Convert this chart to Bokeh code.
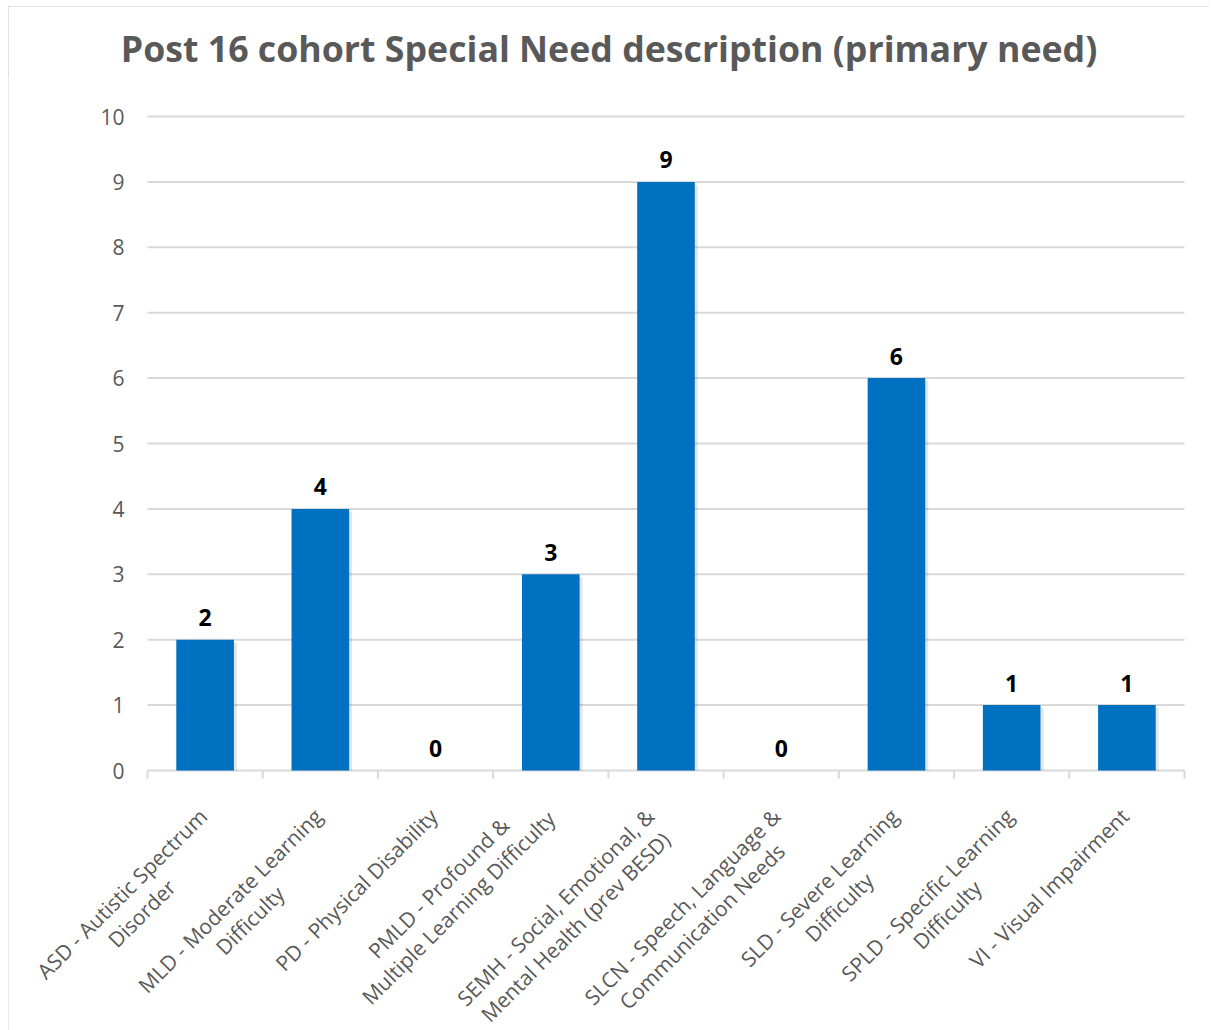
import math
from bokeh.plotting import figure
from bokeh.models import ColumnDataSource, Range1d, LinearAxis, FixedTicker, Title
from bokeh.core.properties import value
from bokeh.embed import file_html
from bokeh.resources import INLINE

# ---------------- data ----------------
title_text = "Post 16 cohort Special Need description (primary need)"
categories = [
    "ASD - Autistic Spectrum\nDisorder",
    "MLD - Moderate Learning\nDifficulty",
    "PD - Physical Disability",
    "PMLD - Profound &\nMultiple Learning Difficulty",
    "SEMH - Social, Emotional, &\nMental Health (prev BESD)",
    "SLCN - Speech, Language &\nCommunication Needs",
    "SLD - Severe Learning\nDifficulty",
    "SPLD - Specific Learning\nDifficulty",
    "VI - Visual Impairment",
]
counts = [2, 4, 0, 3, 9, 0, 6, 1, 1]
y_ticks = [0, 1, 2, 3, 4, 5, 6, 7, 8, 9, 10]

# ---------------- layout constants ----------------
W, H = 1201, 1024          # figure placed at page (8, 6)
N = len(categories)
PX_X = 1037.0 / N          # pixels per category
PX_Y = 65.4                # pixels per unit
FRAME_TOP = 70
X0_PX = 139                # left of first category from frame left
Y10_PX = 110 - FRAME_TOP   # y=10 below frame top
FONT = "Open Sans"
GREY_TXT = "#595959"
GRID = "#d9d9d9"
BAR = "#0070C0"
LABEL_PX = 21
LINE_ADV = 24.6            # px between label lines (text_line_height 1.0)

x_start = -X0_PX / PX_X
x_end = x_start + W / PX_X
y_end = 10 + Y10_PX / PX_Y
y_start = y_end - (H - FRAME_TOP) / PX_Y

p = figure(width=W, height=H, output_backend="svg", toolbar_location=None,
           x_range=Range1d(x_start, x_end), y_range=Range1d(y_start, y_end),
           x_axis_location=None, y_axis_location=None,
           min_border_left=0, min_border_right=0, min_border_bottom=0,
           min_border_top=FRAME_TOP)
p.outline_line_color = None
p.background_fill_color = "white"
p.border_fill_color = "white"
for g in p.grid:
    g.visible = False
p.styles = {"margin-left": "8px", "margin-top": "6px",
            "outline": "2px solid #d9d9d9", "outline-offset": "-2px"}

p.title = Title(text=title_text, align="center", text_font=FONT,
                text_font_size="35.7px", text_font_style="bold",
                text_color=GREY_TXT, standoff=10)

xs = [i + 0.5 for i in range(N)]
bounds = [float(i) for i in range(N + 1)]

# gridlines (incl. baseline at 0)
p.segment(x0=0, x1=N, y0=y_ticks, y1=y_ticks, line_color=GRID, line_width=2)
# category boundary tick marks
p.segment(x0=bounds, x1=bounds, y0=0, y1=-8 / PX_Y, line_color=GRID, line_width=2)

# y axis at x = 0
yaxis = LinearAxis(fixed_location=0, ticker=FixedTicker(ticks=y_ticks), bounds=(0, 10))
yaxis.axis_line_color = None
yaxis.major_tick_line_color = None
yaxis.minor_tick_line_color = None
yaxis.major_tick_out = 0
yaxis.major_tick_in = 0
yaxis.major_label_standoff = 23
yaxis.major_label_text_font = FONT
yaxis.major_label_text_font_size = "21px"
yaxis.major_label_text_color = GREY_TXT
p.add_layout(yaxis, "left")

# bar shadows
sh = [(x, c) for x, c in zip(xs, counts) if c > 0]
p.vbar(x=[x + 3 / PX_X for x, c in sh], top=[c - 3 / PX_Y for x, c in sh],
       bottom=0, width=0.5, fill_color="black", fill_alpha=0.10, line_color=None)
# bars
p.vbar(x=xs, top=counts, width=0.5, fill_color=BAR, line_color=None)

# data labels
p.text(x=xs, y=counts, text=[str(c) for c in counts], text_align="center",
       text_baseline="alphabetic", y_offset=-22, text_font=value(FONT),
       text_font_size="23px", text_font_style="bold", text_color="black")

# ---- rotated category labels, placed like Excel (tight box of the rotated lines) ----
ADV = {' ': 532, '&': 1458, '(': 545, ')': 545, ',': 502, '-': 659,
       'A': 1296, 'B': 1327, 'C': 1292, 'D': 1493, 'E': 1139, 'H': 1554, 'I': 590,
       'L': 1057, 'M': 1849, 'N': 1571, 'P': 1237, 'S': 1098, 'V': 1237,
       'a': 1139, 'b': 1255, 'c': 975, 'd': 1255, 'e': 1149, 'f': 694, 'g': 1122,
       'h': 1257, 'i': 518, 'l': 518, 'm': 1905, 'n': 1257, 'o': 1237, 'p': 1255,
       'r': 836, 's': 977, 't': 723, 'u': 1257, 'v': 1051, 'y': 1051}

def text_w(s):
    return sum(ADV.get(ch, 1150) for ch in s) / 2048.0 * LABEL_PX

C = math.sqrt(0.5)
RIGHT, TOP = 5.4, 32.0     # rotated-box right / top edge relative to (tick centre, axis)
x_offs, y_offs = [], []
for lbl in categories:
    lines = lbl.split("\n")
    ws = [text_w(s) for s in lines]
    wmax = max(ws)
    us = [-(wmax - w) / 2 for w in ws]
    ds = [k * LINE_ADV for k in range(len(lines))]
    y_offs.append(TOP - min(C * (d - u) for u, d in zip(us, ds)))
    x_offs.append(RIGHT - max(C * (u + d + LINE_ADV) for u, d in zip(us, ds)))

src = ColumnDataSource(dict(x=xs, y=[0] * N, text=categories, xo=x_offs, yo=y_offs))
p.text(x="x", y="y", text="text", source=src, anchor="top_right",
       angle=math.pi / 4, x_offset="xo", y_offset="yo", text_align="center",
       text_font=value(FONT), text_font_size=f"{LABEL_PX}px", text_color=GREY_TXT,
       text_line_height=1.0)

open("out.html", "w").write(file_html(p, INLINE))
